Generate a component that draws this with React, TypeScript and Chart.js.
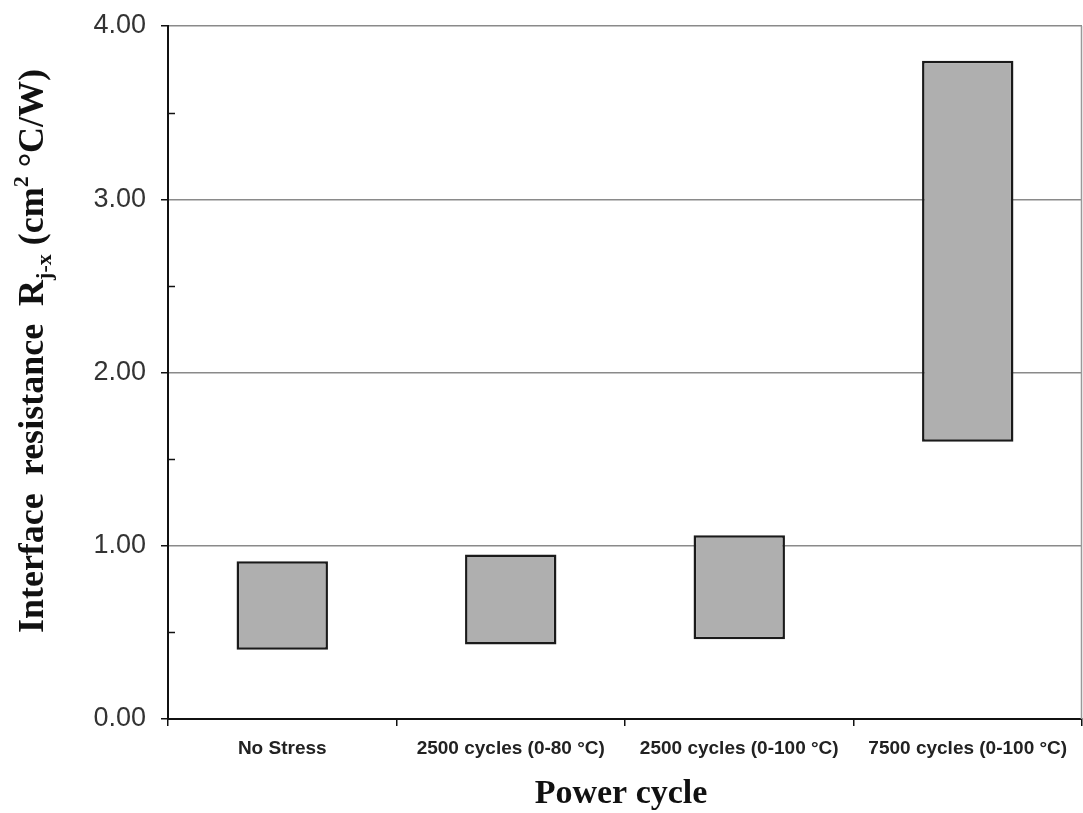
import React, { useEffect, useRef } from "react";
import { Chart, registerables } from "chart.js";

Chart.register(...registerables);

const categories = [
  "No Stress",
  "2500 cycles (0-80 °C)",
  "2500 cycles (0-100 °C)",
  "7500 cycles (0-100 °C)",
];
const lows = [0.4, 0.43, 0.46, 1.6];
const highs = [0.91, 0.95, 1.06, 3.8];
const yMin = 0;
const yMax = 4;
const yStep = 0.5;
const xTitle = "Power cycle";
// y title pieces: [text, sizeFactor, shift (+down, in em)]
const yTitleParts: [string, number, number][] = [
  ["Interface  resistance  R", 1, 0],
  ["j-x", 0.6, 0.22],
  [" (cm", 1, 0],
  ["2", 0.6, -0.42],
  [" °C/W)", 1, 0],
];

const SERIF = '"Liberation Serif", "Times New Roman", serif';
const SANS = '"Liberation Sans", Arial, sans-serif';

const extrasPlugin = {
  id: "extras",
  afterDraw(chart: any) {
    const ctx = chart.ctx;
    const area = chart.chartArea;
    const y = chart.scales.y;
    ctx.save();
    // minor ticks pointing inward
    ctx.strokeStyle = "#111";
    ctx.lineWidth = 1.5;
    y.ticks.forEach((t: any) => {
      if (Math.abs(t.value - Math.round(t.value)) > 1e-6) {
        const py = Math.round(y.getPixelForValue(t.value)) + 0.5;
        ctx.beginPath();
        ctx.moveTo(area.left, py);
        ctx.lineTo(area.left + 7, py);
        ctx.stroke();
      }
    });
    // right border
    ctx.strokeStyle = "#999";
    ctx.lineWidth = 1.5;
    ctx.beginPath();
    ctx.moveTo(area.right - 0.5, area.top);
    ctx.lineTo(area.right - 0.5, area.bottom);
    ctx.stroke();

    // x title
    ctx.fillStyle = "#111";
    ctx.font = `bold 34px ${SERIF}`;
    ctx.textAlign = "center";
    ctx.textBaseline = "alphabetic";
    ctx.fillText(xTitle, (area.left + area.right) / 2 - 4, 803);

    // y title
    const f = 36;
    let total = 0;
    yTitleParts.forEach(([t, s]) => {
      ctx.font = `bold ${Math.round(f * s)}px ${SERIF}`;
      total += ctx.measureText(t).width;
    });
    ctx.translate(43, 351);
    ctx.rotate(-Math.PI / 2);
    ctx.textAlign = "left";
    let x = -total / 2;
    yTitleParts.forEach(([t, s, sh]) => {
      ctx.font = `bold ${Math.round(f * s)}px ${SERIF}`;
      ctx.fillText(t, x, sh * f);
      x += ctx.measureText(t).width;
    });
    ctx.restore();
  },
};

export default function App() {
  const ref = useRef<HTMLCanvasElement>(null);
  useEffect(() => {
    if (!ref.current) return;
    const chart = new Chart(ref.current, {
      type: "bar",
      data: {
        labels: categories,
        datasets: [
          {
            data: lows.map((l, i) => [l, highs[i]]) as any,
            backgroundColor: "#afafaf",
            borderColor: "#1a1a1a",
            borderWidth: 2.5,
            borderSkipped: false,
            barPercentage: 0.4,
            categoryPercentage: 1,
          },
        ],
      },
      options: {
        animation: false,
        responsive: true,
        maintainAspectRatio: false,
        layout: { padding: { left: 0, right: 1, top: 26, bottom: 0 } },
        plugins: {
          legend: { display: false },
          tooltip: { enabled: false },
          title: { display: false },
        },
        scales: {
          x: {
            offset: true,
            grid: {
              offset: true,
              drawOnChartArea: false,
              drawTicks: true,
              tickLength: 7,
              tickColor: "#111",
              lineWidth: 1.5,
            },
            border: { color: "#111", width: 2 },
            ticks: {
              color: "#222",
              font: { family: SANS, size: 19, weight: "bold" },
              padding: 11,
              maxRotation: 0,
              autoSkip: false,
            },
            afterFit(scale: any) {
              scale.height = 94;
              scale.paddingLeft = 0;
              scale.paddingRight = 0;
            },
          },
          y: {
            min: yMin,
            max: yMax,
            ticks: {
              stepSize: yStep,
              color: "#333",
              font: { family: SANS, size: 27 },
              padding: 15,
              callback: (v: any) =>
                Math.abs(v - Math.round(v)) < 1e-6 ? Number(v).toFixed(2) : "",
            },
            grid: {
              tickLength: 7,
              lineWidth: 1.5,
              color: (c: any) =>
                c.tick && Math.abs(c.tick.value - Math.round(c.tick.value)) < 1e-6
                  ? "#8a8a8a"
                  : "rgba(0,0,0,0)",
              tickColor: (c: any) =>
                c.tick && Math.abs(c.tick.value - Math.round(c.tick.value)) < 1e-6
                  ? "#111"
                  : "rgba(0,0,0,0)",
            },
            border: { color: "#111", width: 2 },
            afterFit(scale: any) {
              scale.width = 168;
              scale.paddingTop = 0;
              scale.paddingBottom = 0;
            },
          },
        },
      },
      plugins: [extrasPlugin],
    });
    return () => chart.destroy();
  }, []);
  return (
    <div
      style={{
        position: "absolute",
        left: 0,
        top: 0,
        width: 1083,
        height: 813,
        background: "#fff",
      }}
    >
      <canvas ref={ref} />
    </div>
  );
}
